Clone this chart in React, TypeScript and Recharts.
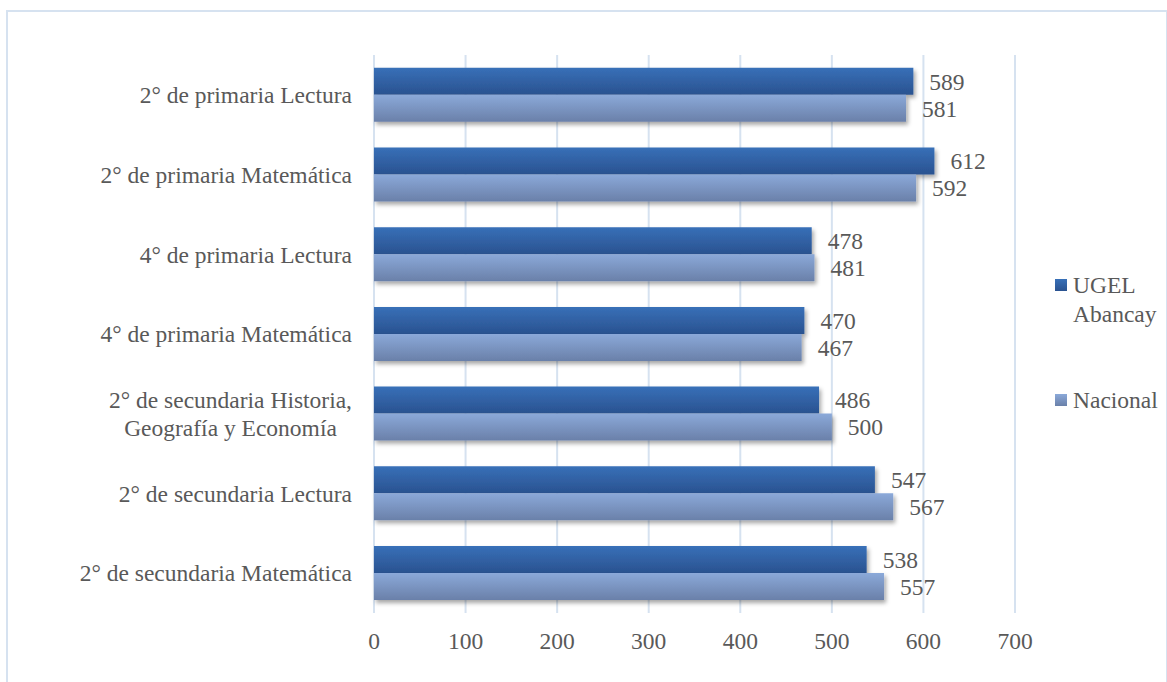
import React from "react";
import {
  BarChart,
  Bar,
  XAxis,
  YAxis,
  CartesianGrid,
  LabelList,
  Rectangle,
} from "recharts";

const categorias = [
  "2° de primaria Lectura",
  "2° de primaria Matemática",
  "4° de primaria Lectura",
  "4° de primaria Matemática",
  "2° de secundaria Historia, Geografía y Economía",
  "2° de secundaria Lectura",
  "2° de secundaria Matemática",
];

const ugelAbancay = [589, 612, 478, 470, 486, 547, 538];
const nacional = [581, 592, 481, 467, 500, 567, 557];

const xTicks = [0, 100, 200, 300, 400, 500, 600, 700];

const serieNombres = { ugel: "UGEL Abancay", nacional: "Nacional" };

const data = categorias.map((categoria, i) => ({
  categoria,
  ugel: ugelAbancay[i],
  nacional: nacional[i],
}));

const FONT = '"Liberation Serif", "Times New Roman", serif';
const FONT_SIZE = 23.5;
const TEXT = "#595959";
const GRID = "#d6e2f0";

const medir = (texto: string) => {
  const ctx = document.createElement("canvas").getContext("2d");
  if (!ctx) return texto.length * FONT_SIZE * 0.45;
  ctx.font = `${FONT_SIZE}px ${FONT}`;
  return ctx.measureText(texto).width;
};

// long category names break after the comma, lines centred in a right-aligned block
const CategoriaTick = (props: any) => {
  const { x, y, payload } = props;
  const valor: string = payload.value;
  const idx = valor.indexOf(", ");
  const lineas = idx >= 0 ? [valor.slice(0, idx + 1), valor.slice(idx + 2)] : [valor];
  if (lineas.length === 1) {
    return (
      <text x={x} y={y} dy="0.35em" textAnchor="end" fill={TEXT} fontSize={FONT_SIZE} fontFamily={FONT}>
        {valor}
      </text>
    );
  }
  const ancho = Math.max(...lineas.map(medir));
  const cx = x - ancho / 2;
  const alto = 28;
  return (
    <text x={cx} y={y} textAnchor="middle" fill={TEXT} fontSize={FONT_SIZE} fontFamily={FONT}>
      {lineas.map((l, i) => (
        <tspan key={i} x={cx} y={y + (i - (lineas.length - 1) / 2) * alto} dy="0.35em">
          {l}
        </tspan>
      ))}
    </text>
  );
};

const BarraSombra = (props: any) => <Rectangle {...props} filter="url(#sombraBarra)" />;

const Leyenda = () => (
  <div
    style={{
      position: "absolute",
      left: 1055,
      top: 271,
      fontFamily: FONT,
      fontSize: FONT_SIZE,
      lineHeight: "29px",
      color: TEXT,
    }}
  >
    {[
      { nombre: serieNombres.ugel, desde: "#3870b8", hasta: "#2a5290" },
      { nombre: serieNombres.nacional, desde: "#8ba9d9", hasta: "#6a80a9" },
    ].map((s, i) => (
      <div key={s.nombre} style={{ display: "flex", alignItems: "flex-start", marginTop: i === 0 ? 0 : 57 }}>
        <span
          style={{
            width: 12,
            height: 12,
            marginTop: 8,
            marginRight: 6,
            flex: "none",
            background: `linear-gradient(${s.desde}, ${s.hasta})`,
          }}
        />
        <span style={{ width: 92 }}>{s.nombre}</span>
      </div>
    ))}
  </div>
);

export default function App() {
  return (
    <div
      style={{
        position: "fixed",
        left: 0,
        top: 0,
        width: 1167,
        height: 682,
        background: "#fff",
        overflow: "hidden",
      }}
    >
      <div
        style={{
          position: "absolute",
          left: 6,
          top: 10,
          width: 1158,
          height: 700,
          border: `2px solid ${GRID}`,
        }}
      />
      <BarChart
        width={1167}
        height={682}
        data={data}
        layout="vertical"
        margin={{ top: 55, right: 152, bottom: 39, left: 0 }}
        barCategoryGap="16%"
        barGap={0}
      >
        <defs>
          <linearGradient id="gradUgel" x1="0" y1="0" x2="0" y2="1">
            <stop offset="0%" stopColor="#3870b8" />
            <stop offset="100%" stopColor="#2a5290" />
          </linearGradient>
          <linearGradient id="gradNacional" x1="0" y1="0" x2="0" y2="1">
            <stop offset="0%" stopColor="#8ba9d9" />
            <stop offset="100%" stopColor="#6a80a9" />
          </linearGradient>
          <filter id="sombraBarra" x="-5%" y="-20%" width="115%" height="160%">
            <feDropShadow dx="2" dy="3" stdDeviation="2" floodColor="#000" floodOpacity="0.35" />
          </filter>
        </defs>
        <CartesianGrid horizontal={false} stroke={GRID} strokeWidth={2} />
        <XAxis
          type="number"
          domain={[0, 700]}
          ticks={xTicks}
          axisLine={false}
          tickLine={false}
          tickSize={0}
          tickMargin={19}
          height={30}
          tick={{ fill: TEXT, fontSize: FONT_SIZE, fontFamily: FONT }}
        />
        <YAxis
          type="category"
          dataKey="categoria"
          width={374}
          axisLine={false}
          tickLine={false}
          tickSize={0}
          tickMargin={22}
          interval={0}
          tick={<CategoriaTick />}
        />
        <Bar dataKey="ugel" name={serieNombres.ugel} fill="url(#gradUgel)" shape={BarraSombra} isAnimationActive={false}>
          <LabelList dataKey="ugel" position="right" offset={16} fill={TEXT} fontSize={FONT_SIZE} fontFamily={FONT} />
        </Bar>
        <Bar
          dataKey="nacional"
          name={serieNombres.nacional}
          fill="url(#gradNacional)"
          shape={BarraSombra}
          isAnimationActive={false}
        >
          <LabelList dataKey="nacional" position="right" offset={16} fill={TEXT} fontSize={FONT_SIZE} fontFamily={FONT} />
        </Bar>
      </BarChart>
      <Leyenda />
    </div>
  );
}
